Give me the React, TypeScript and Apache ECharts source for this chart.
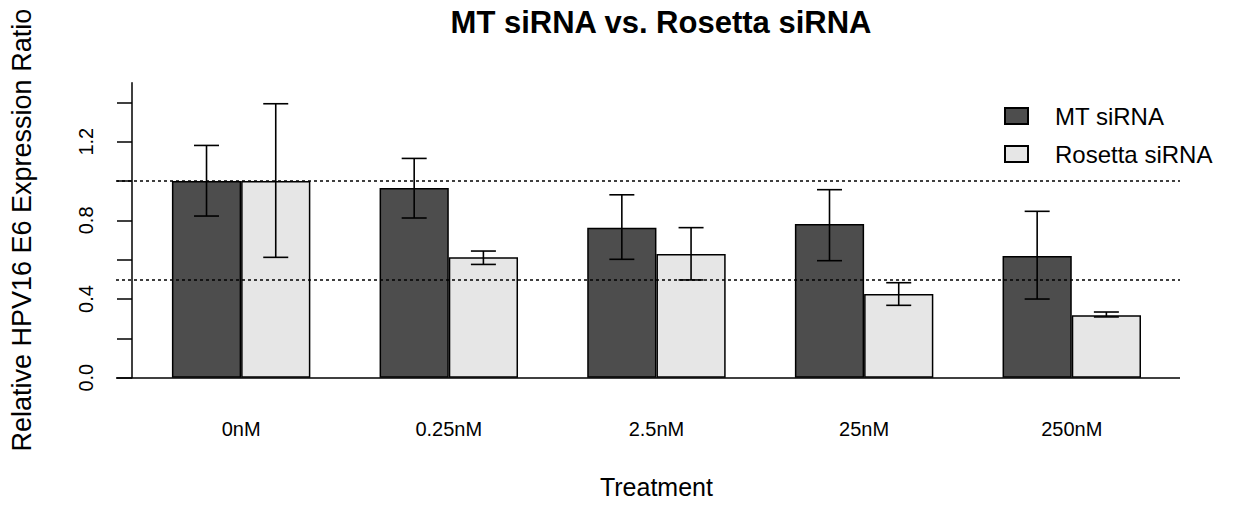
import React, { useEffect, useRef } from "react";
import * as echarts from "echarts";

const categories = ["0nM", "0.25nM", "2.5nM", "25nM", "250nM"];
const mtValues = [1.0, 0.964, 0.763, 0.781, 0.619];
const rosValues = [1.0, 0.612, 0.629, 0.426, 0.317];
const mtLow = [0.822, 0.812, 0.602, 0.595, 0.4];
const mtHigh = [1.181, 1.115, 0.93, 0.956, 0.846];
const rosLow = [0.612, 0.576, 0.497, 0.368, 0.309];
const rosHigh = [1.393, 0.644, 0.763, 0.483, 0.334];
const refLines = [1.0, 0.5];
const yTickValues = [0, 0.2, 0.4, 0.6, 0.8, 1.0, 1.2, 1.4];
const yLabelValues = [0, 0.4, 0.8, 1.2];

const FONT = "Liberation Sans, Arial, sans-serif";

function errorSeries(name: string, low: number[], high: number[], sign: number) {
  return {
    name,
    type: "custom",
    xAxisIndex: 0,
    yAxisIndex: 0,
    z: 5,
    silent: true,
    encode: { x: 0, y: [1, 2] },
    data: categories.map((_, i) => [i, low[i], high[i]]),
    renderItem: (params: any, api: any) => {
      const idx = api.value(0);
      const lo = api.coord([idx, api.value(1)]);
      const hi = api.coord([idx, api.value(2)]);
      const band = api.size([1, 0])[0];
      const x = lo[0] + (sign * band) / 6;
      const cap = 12.5;
      const style = { stroke: "#000", lineWidth: 1.6 };
      return {
        type: "group",
        children: [
          { type: "line", shape: { x1: x, y1: lo[1], x2: x, y2: hi[1] }, style },
          { type: "line", shape: { x1: x - cap, y1: lo[1], x2: x + cap, y2: lo[1] }, style },
          { type: "line", shape: { x1: x - cap, y1: hi[1], x2: x + cap, y2: hi[1] }, style },
        ],
      };
    },
  };
}

export default function App() {
  const ref = useRef<HTMLDivElement>(null);
  useEffect(() => {
    if (!ref.current) return;
    const chart = echarts.init(ref.current, null, { renderer: "svg" });
    const option: any = {
      animation: false,
      backgroundColor: "#ffffff",
      title: {
        text: "MT siRNA vs. Rosetta siRNA",
        left: 656,
        top: 2,
        textAlign: "center",
        textStyle: { fontFamily: FONT, fontWeight: "bold", fontSize: 31, color: "#000" },
      },
      legend: {
        data: ["MT siRNA", "Rosetta siRNA"],
        orient: "vertical",
        left: 1004,
        top: 97,
        padding: 0,
        itemGap: 0,
        itemWidth: 23,
        itemHeight: 16,
        icon: "rect",
        textStyle: {
          fontFamily: FONT,
          fontSize: 24,
          color: "#000",
          lineHeight: 38,
          padding: [0, 0, 0, 22],
        },
      },
      grid: [
        { left: 136.3, right: 1243 - 1175.6, top: 82.7, height: 295 },
        { left: 116, right: 1243 - 1180, top: 82.7, height: 295 },
      ],
      xAxis: [
        {
          type: "category",
          gridIndex: 0,
          data: categories,
          axisLine: { show: false },
          axisTick: { show: false },
          axisLabel: {
            fontFamily: FONT,
            fontSize: 20,
            color: "#000",
            margin: 41,
            lineHeight: 20,
          },
          name: "Treatment",
          nameLocation: "middle",
          nameGap: 97,
          nameTextStyle: { fontFamily: FONT, fontSize: 25, color: "#000" },
        },
        { type: "value", gridIndex: 1, min: 0, max: 1, show: false },
      ],
      yAxis: [
        {
          type: "value",
          gridIndex: 0,
          min: 0,
          max: 1.5,
          offset: 5.3,
          splitLine: { show: false },
          axisLine: { show: true, lineStyle: { color: "#000", width: 1.5 } },
          axisTick: {
            show: true,
            length: 15,
            customValues: yTickValues,
            lineStyle: { color: "#000", width: 1.5 },
          },
          axisLabel: {
            customValues: yLabelValues,
            rotate: 90,
            margin: 36,
            fontFamily: FONT,
            fontSize: 20,
            color: "#000",
            formatter: (v: number) => v.toFixed(1),
          },
          name: "Relative HPV16 E6 Expression Ratio",
          nameLocation: "middle",
          nameRotate: 90,
          nameGap: 97,
          nameTextStyle: { fontFamily: FONT, fontSize: 27, color: "#000" },
        },
        { type: "value", gridIndex: 1, min: 0, max: 1.5, show: false },
      ],
      series: [
        {
          name: "MT siRNA",
          type: "bar",
          xAxisIndex: 0,
          yAxisIndex: 0,
          data: mtValues,
          barGap: "0%",
          barCategoryGap: "33.33%",
          itemStyle: { color: "#4d4d4d", borderColor: "#000", borderWidth: 1.5 },
          z: 2,
        },
        {
          name: "Rosetta siRNA",
          type: "bar",
          xAxisIndex: 0,
          yAxisIndex: 0,
          data: rosValues,
          barGap: "0%",
          barCategoryGap: "33.33%",
          itemStyle: { color: "#e6e6e6", borderColor: "#000", borderWidth: 1.5 },
          z: 2,
        },
        errorSeries("MT err", mtLow, mtHigh, -1),
        errorSeries("Ros err", rosLow, rosHigh, 1),
        {
          name: "refs",
          type: "line",
          xAxisIndex: 1,
          yAxisIndex: 1,
          data: [],
          z: 10,
          markLine: {
            silent: true,
            symbol: "none",
            label: { show: false },
            data: [
              ...refLines.map((v) => ({
                yAxis: v,
                lineStyle: { color: "#000", width: 1.5, type: [3, 3] },
              })),
              { yAxis: 0, lineStyle: { color: "#000", width: 1.5, type: "solid" } },
            ],
          },
        },
      ],
    };
    chart.setOption(option);
    return () => chart.dispose();
  }, []);
  return (
    <div
      ref={ref}
      style={{ position: "fixed", left: 0, top: 0, width: 1243, height: 506 }}
    />
  );
}
